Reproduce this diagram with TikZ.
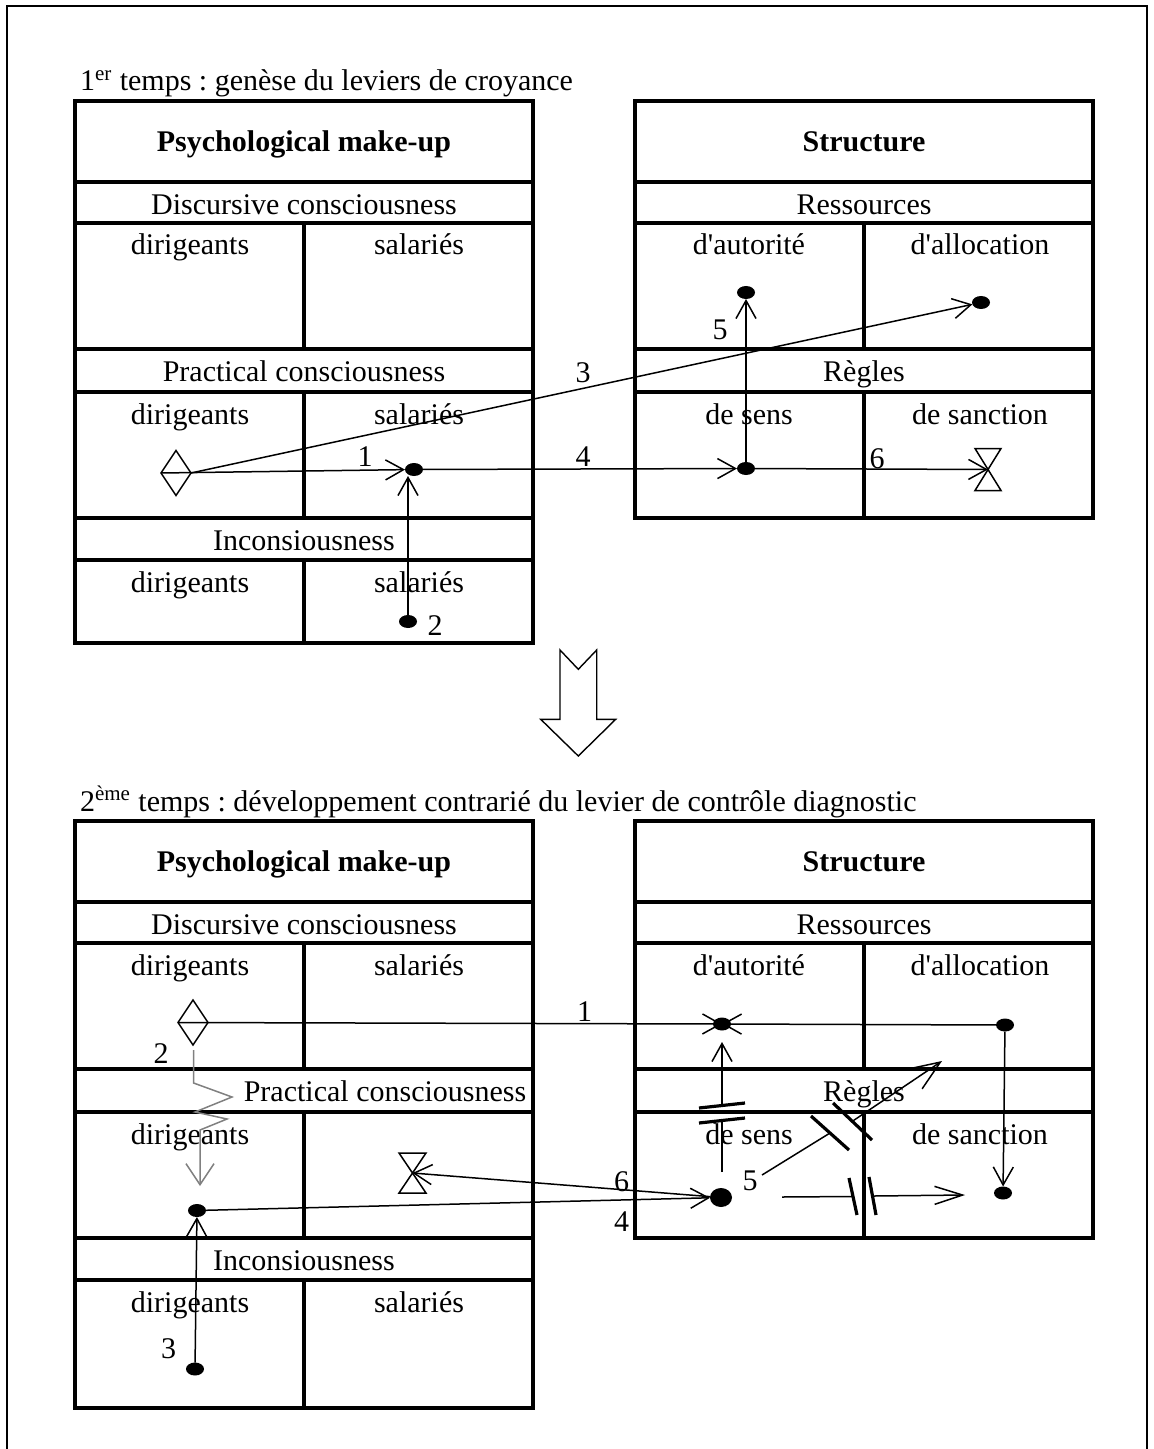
\documentclass[tikz,border=0pt]{standalone}
\usepackage{fontspec}
\setmainfont{Liberation Serif}[Ligatures=TeXOff]
\usetikzlibrary{arrows.meta,shapes.geometric}
\frenchspacing
\begin{document}
\begin{tikzpicture}[x=0.5pt,y=-0.5pt,
  every node/.style={inner sep=0pt, outer sep=0pt},
  txt/.style={anchor=base, font=\fontsize{15}{18}\selectfont},
  btxt/.style={anchor=base, font=\fontsize{15}{18}\selectfont\bfseries},
  boxline/.style={line width=1.6pt},
  cline/.style={line width=0.75pt},
  conn/.style={line width=0.75pt, -{Straight Barb[length=9pt,width=10pt]}},
  dotn/.style={ellipse, fill=black, minimum width=9pt, minimum height=6.5pt, inner sep=0pt},
  bigdotn/.style={ellipse, fill=black, minimum width=11pt, minimum height=9.5pt, inner sep=0pt},
  dmd/.style={diamond, draw, line width=0.75pt, minimum width=15pt, minimum height=22.5pt, inner sep=0pt},
  blockbar/.style={line width=1.6pt}
]
\useasboundingbox (0,0) rectangle (1153,1449);
% page frame
\draw[line width=1pt] (6.5,1449) -- (6.5,6.5) -- (1147,6.5) -- (1147,1449);

% ================= FIRST TIME =================
\node[txt, anchor=base west] (title1) at (80,91) {1\textsuperscript{er} temps : genèse du leviers de croyance};

% left box
\draw[boxline] (75,101) rectangle (533,643);
\draw[boxline] (75,182) -- (533,182) (75,223) -- (533,223) (75,349) -- (533,349)
  (75,392) -- (533,392) (75,518) -- (533,518) (75,560) -- (533,560);
\draw[boxline] (304,223) -- (304,349) (304,392) -- (304,518) (304,560) -- (304,643);
\node[btxt] (psy1) at (304,151.5) {Psychological make-up};
\node[txt] (disc1) at (304,214.5) {Discursive consciousness};
\node[txt] (dirA1) at (190,255) {dirigeants};
\node[txt] (salA1) at (419,255) {salariés};
\node[txt] (prac1) at (304,381.5) {Practical consciousness};
\node[txt] (dirB1) at (190,424) {dirigeants};
\node[txt] (salB1) at (419,424) {salariés};
\node[txt] (inc1) at (304,550) {Inconsiousness};
\node[txt] (dirC1) at (190,592) {dirigeants};
\node[txt] (salC1) at (419,592) {salariés};

% right box
\draw[boxline] (635,101) rectangle (1093,518);
\draw[boxline] (635,182) -- (1093,182) (635,223) -- (1093,223) (635,349) -- (1093,349) (635,392) -- (1093,392);
\draw[boxline] (864,223) -- (864,349) (864,392) -- (864,518);
\node[btxt] (str1) at (864,151.5) {Structure};
\node[txt] (res1) at (864,214.5) {Ressources};
\node[txt] (aut1) at (749,255) {d'autorité};
\node[txt] (all1) at (980,255) {d'allocation};
\node[txt] (reg1) at (864,381.5) {Règles};
\node[txt] (sens1) at (749,424) {de sens};
\node[txt] (sanc1) at (980,424) {de sanction};

% symbols
\node[dmd] (dm1) at (176,473) {};
\node[dotn] (d1) at (414,469.5) {};
\node[dotn] (d2) at (408,621.5) {};
\node[dotn] (dAut1) at (746,292.5) {};
\node[dotn] (dAll1) at (981,302.5) {};
\node[dotn] (dSens1) at (746,468.5) {};
\coordinate (hg1) at (988,469.5);
\draw[cline] ([shift={(-13,-21)}]hg1) -- ([shift={(13,-21)}]hg1) -- ([shift={(-13,21)}]hg1) -- ([shift={(13,21)}]hg1) -- cycle;

% connectors
\draw[conn] (dm1.west) -- (d1);
\draw[conn] (d2) -- (d2 |- d1.south);
\draw[conn] (dm1.east) -- (dAll1);
\draw[conn] (d1) -- (dSens1);
\draw[conn] (dSens1) -- (dAut1);
\draw[conn] (dSens1) -- (hg1);

\node[txt] (n1a) at (365,466) {1};
\node[txt] (n2a) at (435,635) {2};
\node[txt] (n3a) at (583,382) {3};
\node[txt] (n4a) at (583,466) {4};
\node[txt] (n5a) at (720,340) {5};
\node[txt] (n6a) at (877,468) {6};

% ================= BIG ARROW =================
\draw[line width=0.7pt] (560,650) -- (578.3,669.3) -- (596.7,650) -- (596.7,719.3) -- (615.7,719.3)
  -- (578.3,756) -- (540.7,719.3) -- (560,719.3) -- cycle;

% ================= SECOND TIME =================
\node[txt, anchor=base west] (title2) at (80,811) {2\textsuperscript{ème} temps : développement contrarié du levier de contrôle diagnostic};

% left box
\draw[boxline] (75,821) rectangle (533,1408);
\draw[boxline] (75,902) -- (533,902) (75,943) -- (533,943) (75,1069) -- (533,1069)
  (75,1112) -- (533,1112) (75,1238) -- (533,1238) (75,1280) -- (533,1280);
\draw[boxline] (304,943) -- (304,1069) (304,1112) -- (304,1238) (304,1280) -- (304,1408);
\node[btxt] (psy2) at (304,871.5) {Psychological make-up};
\node[txt] (disc2) at (304,934.5) {Discursive consciousness};
\node[txt] (dirA2) at (190,975) {dirigeants};
\node[txt] (salA2) at (419,975) {salariés};
\node[txt] (prac2) at (385,1101.5) {Practical consciousness};
\node[txt] (dirB2) at (190,1144) {dirigeants};
\node[txt] (inc2) at (304,1270) {Inconsiousness};
\node[txt] (dirC2) at (190,1312) {dirigeants};
\node[txt] (salC2) at (419,1312) {salariés};

% right box
\draw[boxline] (635,821) rectangle (1093,1238);
\draw[boxline] (635,902) -- (1093,902) (635,943) -- (1093,943) (635,1069) -- (1093,1069) (635,1112) -- (1093,1112);
\draw[boxline] (864,943) -- (864,1069) (864,1112) -- (864,1238);
\node[btxt] (str2) at (864,871.5) {Structure};
\node[txt] (res2) at (864,934.5) {Ressources};
\node[txt] (aut2) at (749,975) {d'autorité};
\node[txt] (all2) at (980,975) {d'allocation};
\node[txt] (reg2) at (864,1101.5) {Règles};
\node[txt] (sens2) at (749,1144) {de sens};
\node[txt] (sanc2) at (980,1144) {de sanction};

% symbols
\node[dmd] (dm2) at (193,1022.5) {};
\node[dotn] (dX) at (722,1024) {};
\node[dotn] (dAll2) at (1005,1025) {};
\node[dotn] (dSanc2) at (1003,1193) {};
\node[bigdotn] (dSens2) at (721,1197.5) {};
\node[dotn] (dDir2) at (197,1210.5) {};
\node[dotn] (d3b) at (195,1369) {};
\coordinate (hg2) at (412.5,1173);
\draw[cline] ([shift={(-13.5,-20)}]hg2) -- ([shift={(13.5,-20)}]hg2) -- ([shift={(-13.5,20)}]hg2) -- ([shift={(13.5,20)}]hg2) -- cycle;

% connectors
\draw[conn] (dm2.west) -- (dX.center);
\draw[conn] (dAll2) -- (dX.center);
\draw[conn] (dAll2) -- (dSanc2);
\draw[conn] (d3b) -- (dDir2);
\draw[conn] (dDir2) -- (dSens2);
\draw[conn] (dSens2) -- (hg2);

% zigzag (gray)
\coordinate (z0) at (193.6,1050);
\coordinate (zEnd) at (200,1186);
\draw[gray, line width=0.75pt, -{Straight Barb[length=10.5pt,width=14pt]}]
  (z0) -- (193.6,1083) -- (232,1097) -- (195,1112) -- (227,1119) -- (200,1130) -- (zEnd);

% blocked vertical arrow
\coordinate (vS) at (722,1172);
\coordinate (vB1) at (722,1120);
\coordinate (vB2) at (722,1105);
\coordinate (vT) at (722,1042);
\draw[cline] (vS) -- (vB1);
\draw[blockbar] (699,1123) -- (745,1118);
\draw[blockbar] (699,1108) -- (745,1103);
\draw[conn] (vB2) -- (vT);

% blocked diagonal arrow
\coordinate (gS) at (762,1175);
\coordinate (gB1) at (830,1133);
\coordinate (gB2) at (852,1121.5);
\coordinate (gT) at (942,1061);
\draw[cline] (gS) -- (gB1);
\draw[blockbar] (811,1116) -- (849,1150);
\draw[blockbar] (833,1103) -- (872,1140);
\draw[line width=0.75pt, -{Straight Barb[length=15pt,width=12pt]}] (gB2) -- (gT);

% blocked horizontal arrow
\coordinate (hS) at (782,1197);
\coordinate (hB1) at (853,1196.5);
\coordinate (hB2) at (874,1196);
\coordinate (hT) at (965,1195);
\draw[cline] (hS) -- (hB1);
\draw[blockbar] (849,1178) -- (857,1215);
\draw[blockbar] (869,1177) -- (876,1215);
\draw[line width=0.75pt, -{Straight Barb[length=14pt,width=9pt]}] (hB2) -- (hT);

\node[txt] (n1b) at (584.6,1021) {1};
\node[txt] (n2b) at (161,1063) {2};
\node[txt] (n3b) at (168.6,1358) {3};
\node[txt] (n4b) at (621.7,1231) {4};
\node[txt] (n5b) at (750,1190) {5};
\node[txt] (n6b) at (621.7,1191) {6};
\end{tikzpicture}
\end{document}
